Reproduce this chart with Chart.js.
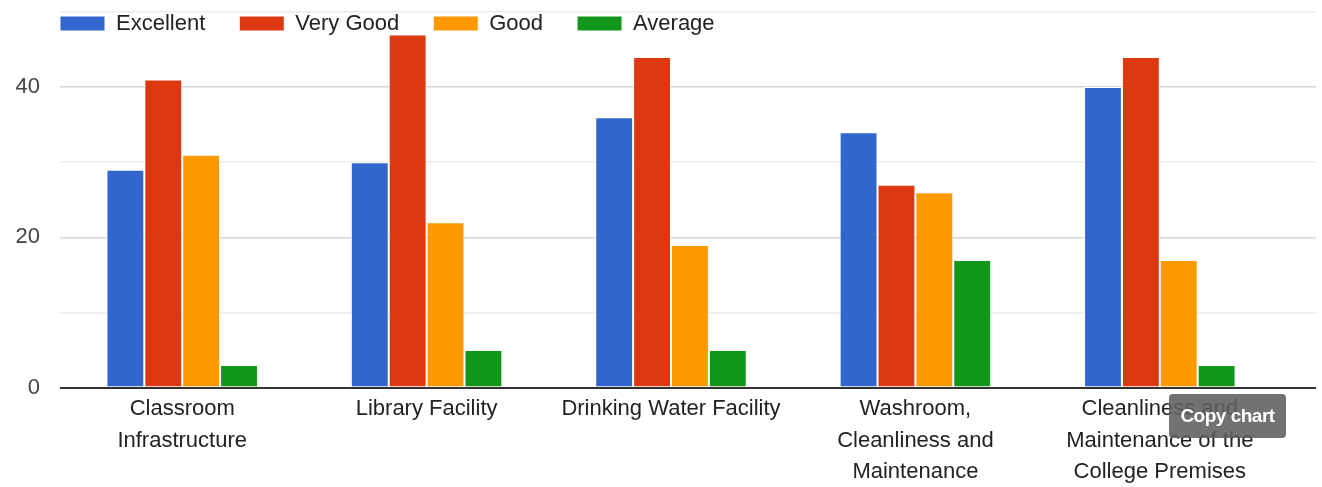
<!DOCTYPE html>
<html>
<head>
<meta charset="utf-8">
<script src="https://cdn.jsdelivr.net/npm/chart.js@4/dist/chart.umd.min.js"></script>
<style>
  html, body { margin: 0; padding: 0; background: #fff; }
  #wrap { position: relative; width: 1322px; height: 487px; }
  canvas { display: block; }
  #copy {
    position: absolute; left: 1169px; top: 394px; width: 117px; height: 44px;
    background: rgba(95,95,95,0.88); border-radius: 4px; color: #fff;
    font: bold 19px "Liberation Sans", Arial, sans-serif; letter-spacing: -0.5px;
    display: flex; align-items: center; justify-content: center;
  }
</style>
</head>
<body>
<div id="wrap">
  <canvas id="c" width="1322" height="487"></canvas>
  <div id="copy">Copy chart</div>
</div>
<script>
const categories = [
  ["Classroom", "Infrastructure"],
  ["Library Facility"],
  ["Drinking Water Facility"],
  ["Washroom,", "Cleanliness and", "Maintenance"],
  ["Cleanliness and", "Maintenance of the", "College Premises"]
];
const seriesNames = ["Excellent", "Very Good", "Good", "Average"];
const excellent = [29, 30, 36, 34, 40];
const veryGood  = [41, 47, 44, 27, 44];
const good      = [31, 22, 19, 26, 17];
const average   = [3, 5, 5, 17, 3];
const yTickLabels = [0, 20, 40];

const colors = ["#3366cc", "#dc3912", "#ff9900", "#109618"];
const seriesValues = [excellent, veryGood, good, average];

const LEGEND_PAD = 34;
const CATEGORY_SPAN = 1222; // horizontal extent used by the category slots
const layoutTweak = {
  id: 'layoutTweak',
  afterLayout(chart) {
    const l = chart.legend;
    if (l) {
      l.left = chart.chartArea.left - LEGEND_PAD;
      l.top = 12.5 - LEGEND_PAD;
      l.bottom = l.top + 90;
      l.right = chart.width;
    }
    const xs = chart.scales.x;
    if (xs) {
      xs._endPixel = xs._startPixel + CATEGORY_SPAN;
      xs._length = CATEGORY_SPAN;
    }
  }
};

new Chart(document.getElementById('c'), {
  type: 'bar',
  data: {
    labels: categories,
    datasets: seriesNames.map((name, i) => ({
      label: name,
      data: seriesValues[i],
      backgroundColor: colors[i],
      borderColor: '#ffffff',
      borderWidth: 1,
      borderSkipped: 'bottom',
      categoryPercentage: 0.62,
      barPercentage: 1.0
    }))
  },
  options: {
    responsive: false,
    animation: false,
    layout: { padding: { top: 0, right: 6, bottom: 0, left: 0 } },
    plugins: {
      tooltip: { enabled: false },
      legend: {
        position: 'top',
        align: 'start',
        maxHeight: 1,
        labels: {
          boxWidth: 45,
          boxHeight: 15,
          padding: LEGEND_PAD,
          color: '#222',
          font: { family: '"Liberation Sans", Arial, sans-serif', size: 22 }
        }
      }
    },
    scales: {
      x: {
        grid: { display: false, drawTicks: false },
        border: { display: false },
        afterFit(scale) { scale.height = scale.height - 7; },
        ticks: {
          color: '#222',
          padding: 6,
          maxRotation: 0,
          autoSkip: false,
          font: { family: '"Liberation Sans", Arial, sans-serif', size: 22, lineHeight: 1.43 }
        }
      },
      y: {
        min: 0,
        max: 50,
        afterFit(scale) {
          scale.width = 60;
          scale.paddingTop = 12;
          scale.paddingBottom = 0;
        },
        border: { display: false },
        grid: {
          drawTicks: false,
          color: ctx => {
            const v = ctx.tick.value;
            if (v === 0) return '#333333';
            return (v % 20 === 0) ? '#d6d6d6' : '#ebebeb';
          },
          lineWidth: ctx => (ctx.tick.value === 0 ? 2 : 1.5)
        },
        ticks: {
          stepSize: 10,
          padding: 20,
          color: '#444',
          font: { family: '"Liberation Sans", Arial, sans-serif', size: 22 },
          callback: v => (yTickLabels.includes(v) ? String(v) : '')
        }
      }
    }
  },
  plugins: [layoutTweak]
});
</script>
</body>
</html>
